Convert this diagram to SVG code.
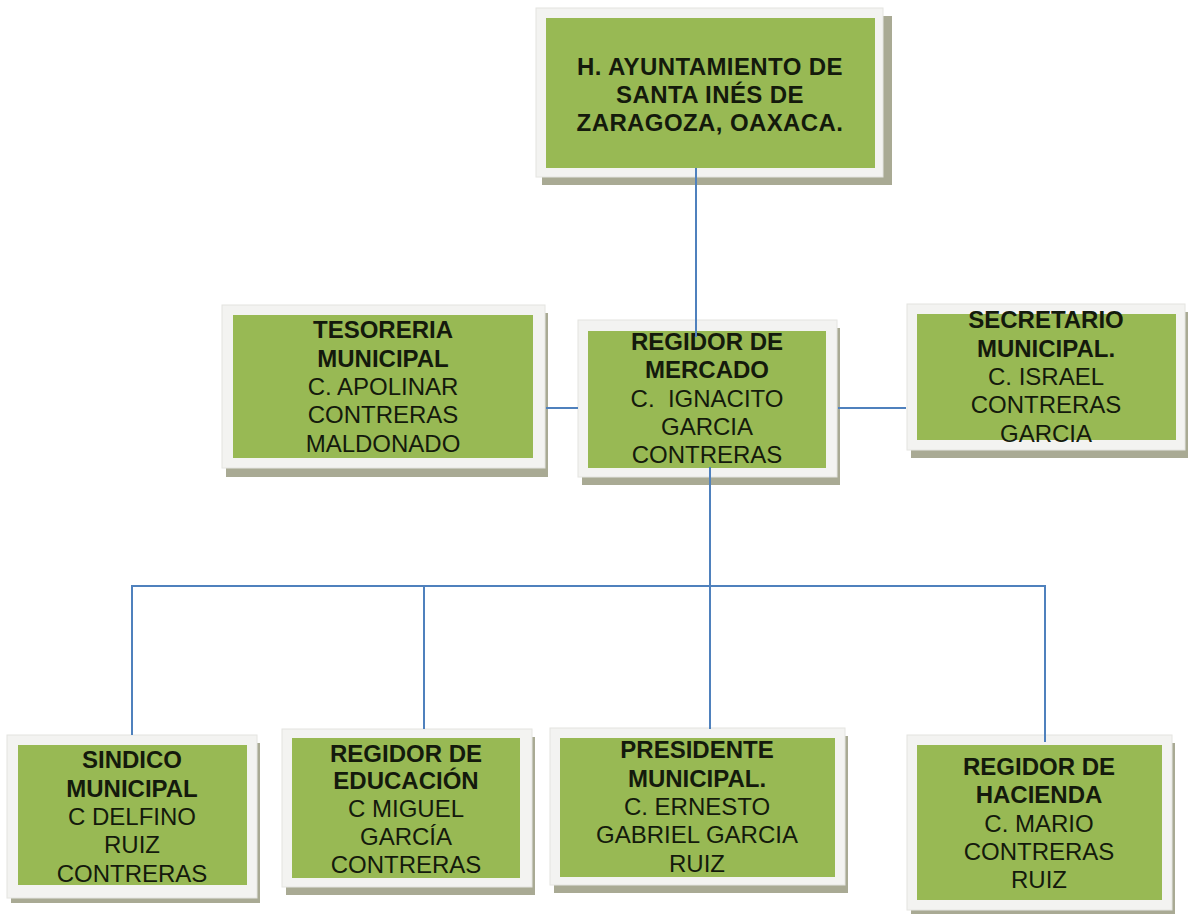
<svg xmlns="http://www.w3.org/2000/svg" width="1189" height="914" viewBox="0 0 1189 914">
<style>
.shadow{fill:#a9aa94}
.frame{fill:#f3f3f1;stroke:#e4e4e0;stroke-width:1}
.green{fill:#98b954}
text{font-family:"Liberation Sans",Arial,sans-serif;font-size:24px;fill:#141a0c;text-anchor:middle}
.b{font-weight:bold}
.t{letter-spacing:0.4px}
.conn{stroke:#4f81bd;stroke-width:2;fill:none}
</style>
<rect width="1189" height="914" fill="#ffffff"/>
<g id="node-ayuntamiento">
<rect class="shadow" x="542" y="16" width="350" height="169"/>
<rect class="frame" x="536" y="8" width="347" height="169"/>
<rect class="green" x="546" y="18" width="329" height="150"/>
<text class="b t" x="710" y="75">H. AYUNTAMIENTO DE</text>
<text class="b t" x="710" y="103">SANTA INÉS DE</text>
<text class="b t" x="710" y="131">ZARAGOZA, OAXACA.</text>
</g>
<g id="node-tesoreria">
<rect class="shadow" x="226" y="313" width="322" height="164"/>
<rect class="frame" x="222" y="305" width="323" height="163"/>
<rect class="green" x="233" y="315" width="300" height="143"/>
<text class="b" x="383" y="338">TESORERIA</text>
<text class="b" x="383" y="367">MUNICIPAL</text>
<text x="383" y="395">C. APOLINAR</text>
<text x="383" y="423">CONTRERAS</text>
<text x="383" y="452">MALDONADO</text>
</g>
<g id="node-mercado">
<rect class="shadow" x="582" y="328" width="258" height="157"/>
<rect class="frame" x="578" y="320" width="259" height="157"/>
<rect class="green" x="588" y="331" width="238" height="137"/>
<text class="b" x="707" y="350">REGIDOR DE</text>
<text class="b" x="707" y="378">MERCADO</text>
<text x="707" y="407" xml:space="preserve">C.  IGNACITO</text>
<text x="707" y="435">GARCIA</text>
<text x="707" y="463">CONTRERAS</text>
</g>
<g id="node-secretario">
<rect class="shadow" x="911" y="312" width="277" height="146"/>
<rect class="frame" x="907" y="304" width="278" height="146"/>
<rect class="green" x="917" y="314" width="259" height="126"/>
<text class="b" x="1046" y="328">SECRETARIO</text>
<text class="b" x="1046" y="357">MUNICIPAL.</text>
<text x="1046" y="385">C. ISRAEL</text>
<text x="1046" y="413">CONTRERAS</text>
<text x="1046" y="442">GARCIA</text>
</g>
<g id="node-sindico">
<rect class="shadow" x="11" y="743" width="249" height="160"/>
<rect class="frame" x="7" y="735" width="250" height="163"/>
<rect class="green" x="18" y="745" width="229" height="140"/>
<text class="b" x="132" y="768">SINDICO</text>
<text class="b" x="132" y="797">MUNICIPAL</text>
<text x="132" y="825">C DELFINO</text>
<text x="132" y="853">RUIZ</text>
<text x="132" y="882">CONTRERAS</text>
</g>
<g id="node-educacion">
<rect class="shadow" x="286" y="737" width="249" height="158"/>
<rect class="frame" x="282" y="729" width="250" height="158"/>
<rect class="green" x="292" y="738" width="228" height="140"/>
<text class="b" x="406" y="762">REGIDOR DE</text>
<text class="b" x="406" y="789">EDUCACIÓN</text>
<text x="406" y="817">C MIGUEL</text>
<text x="406" y="845">GARCÍA</text>
<text x="406" y="873">CONTRERAS</text>
</g>
<g id="node-presidente">
<rect class="shadow" x="554" y="736" width="294" height="157"/>
<rect class="frame" x="550" y="728" width="295" height="157"/>
<rect class="green" x="560" y="738" width="275" height="139"/>
<text class="b" x="697" y="758">PRESIDENTE</text>
<text class="b" x="697" y="787">MUNICIPAL.</text>
<text x="697" y="815">C. ERNESTO</text>
<text x="697" y="843">GABRIEL GARCIA</text>
<text x="697" y="872">RUIZ</text>
</g>
<g id="node-hacienda">
<rect class="shadow" x="911" y="743" width="264" height="172"/>
<rect class="frame" x="907" y="735" width="265" height="175"/>
<rect class="green" x="917" y="745" width="245" height="155"/>
<text class="b" x="1039" y="775">REGIDOR DE</text>
<text class="b" x="1039" y="803">HACIENDA</text>
<text x="1039" y="832">C. MARIO</text>
<text x="1039" y="860">CONTRERAS</text>
<text x="1039" y="888">RUIZ</text>
</g>
<g id="connectors">
<line class="conn" x1="696" y1="168" x2="696" y2="337"/>
<line class="conn" x1="546" y1="408" x2="578" y2="408"/>
<line class="conn" x1="838" y1="408" x2="906" y2="408"/>
<line class="conn" x1="710" y1="467" x2="710" y2="586"/>
<polyline class="conn" points="132,735 132,586 1045,586 1045,742"/>
<line class="conn" x1="424" y1="586" x2="424" y2="729"/>
<line class="conn" x1="710" y1="586" x2="710" y2="729"/>
</g>
</svg>
